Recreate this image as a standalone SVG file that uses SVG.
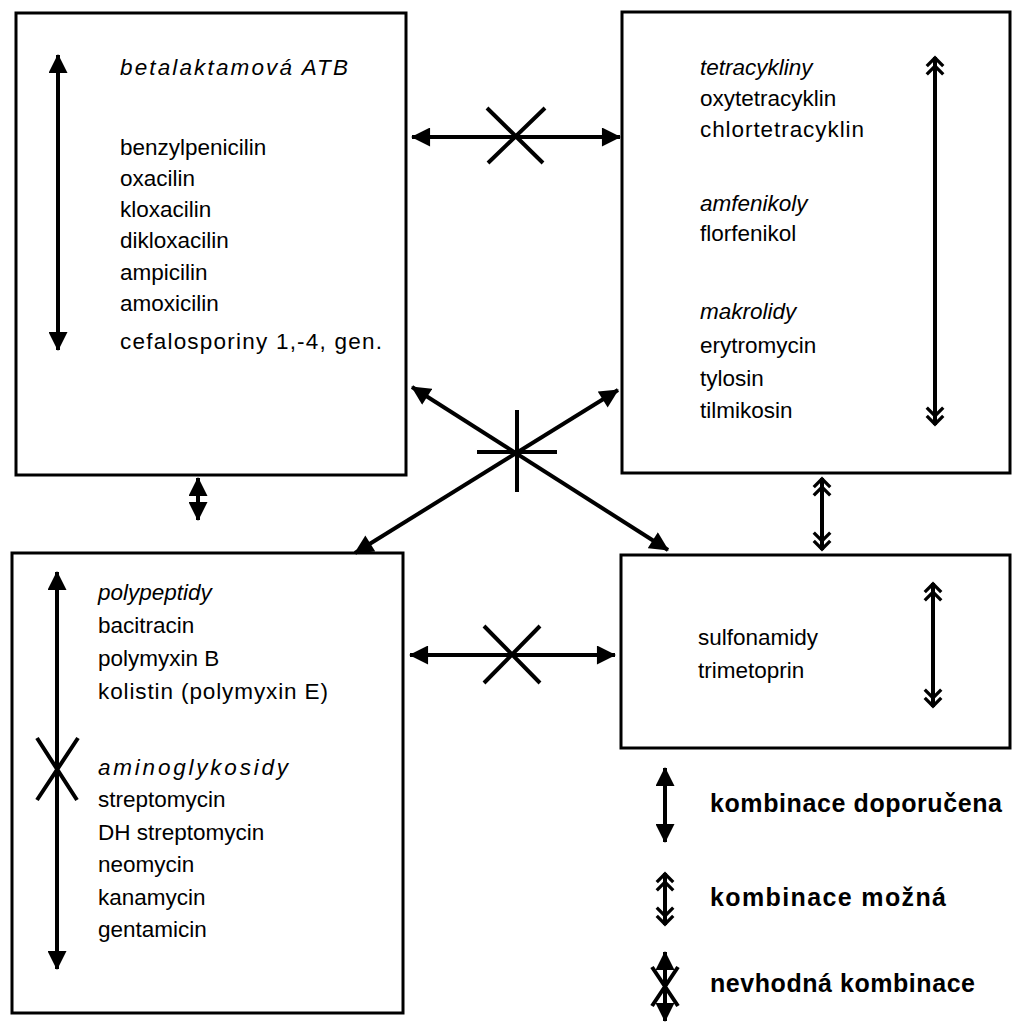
<svg xmlns="http://www.w3.org/2000/svg" width="1013" height="1023" viewBox="0 0 1013 1023">
<style>
.box{fill:#fff;stroke:#000;stroke-width:3}
.t{font-family:"Liberation Sans",Arial,sans-serif;font-size:22.5px;fill:#000}
.i{font-style:italic}
.b{font-weight:bold;font-size:25px}
.a{stroke:#000;stroke-width:4;fill:none}
.x{stroke:#000;stroke-width:4;fill:none}
.s{marker-start:url(#ah);marker-end:url(#ah)}
.d{marker-start:url(#dh);marker-end:url(#dh)}
</style>
<defs>
<marker id="ah" viewBox="0 0 20 20" refX="19" refY="10" markerWidth="20" markerHeight="19" markerUnits="userSpaceOnUse" orient="auto-start-reverse">
<path d="M0,0 L20,10 L0,20 z" fill="#000"/>
</marker>
<marker id="dh" viewBox="0 0 24 24" refX="22" refY="12" markerWidth="24" markerHeight="22" markerUnits="userSpaceOnUse" orient="auto-start-reverse">
<path d="M3,3 L12,12 L3,21 M12,3 L21,12 L12,21" fill="none" stroke="#000" stroke-width="3.6"/>
</marker>
</defs>
<g id="box-betalaktam">
<rect class="box" x="16" y="13" width="390" height="462"/>
<text class="t i" x="120" y="75" textLength="228">betalaktamová ATB</text>
<text class="t" x="120" y="155">benzylpenicilin</text>
<text class="t" x="120" y="186">oxacilin</text>
<text class="t" x="120" y="217">kloxacilin</text>
<text class="t" x="120" y="248">dikloxacilin</text>
<text class="t" x="120" y="280">ampicilin</text>
<text class="t" x="120" y="311">amoxicilin</text>
<text class="t" x="120" y="349" textLength="262">cefalosporiny 1,-4, gen.</text>
</g>
<g id="box-tetracykliny">
<rect class="box" x="622" y="12" width="388" height="461"/>
<text class="t i" x="700" y="75">tetracykliny</text>
<text class="t" x="700" y="106">oxytetracyklin</text>
<text class="t" x="700" y="137" textLength="164">chlortetracyklin</text>
<text class="t i" x="700" y="211">amfenikoly</text>
<text class="t" x="700" y="241">florfenikol</text>
<text class="t i" x="700" y="319">makrolidy</text>
<text class="t" x="700" y="353">erytromycin</text>
<text class="t" x="700" y="386">tylosin</text>
<text class="t" x="700" y="418">tilmikosin</text>
</g>
<g id="box-polypeptidy">
<rect class="box" x="12" y="553" width="391" height="460"/>
<text class="t i" x="98" y="600">polypeptidy</text>
<text class="t" x="98" y="633">bacitracin</text>
<text class="t" x="98" y="666">polymyxin B</text>
<text class="t" x="98" y="699" textLength="230">kolistin (polymyxin E)</text>
<text class="t i" x="98" y="775" textLength="190">aminoglykosidy</text>
<text class="t" x="98" y="807">streptomycin</text>
<text class="t" x="98" y="840">DH streptomycin</text>
<text class="t" x="98" y="872">neomycin</text>
<text class="t" x="98" y="905">kanamycin</text>
<text class="t" x="98" y="937">gentamicin</text>
</g>
<g id="box-sulfonamidy">
<rect class="box" x="621" y="555" width="389" height="193"/>
<text class="t" x="698" y="645">sulfonamidy</text>
<text class="t" x="698" y="678">trimetoprin</text>
</g>
<g id="connectors">
<line class="a s" x1="58" y1="55" x2="58" y2="350"/>
<line class="a d" x1="935" y1="57" x2="935" y2="425"/>
<line class="a s" x1="57" y1="572" x2="57" y2="969"/>
<path class="x" d="M37,738 L77,800 M78,738 L37,800"/>
<line class="a d" x1="933" y1="583" x2="933" y2="707"/>
<line class="a s" x1="412" y1="137" x2="620" y2="137"/>
<path class="x" d="M487,108 L543,163 M545,108 L488,163"/>
<line class="a s" x1="410" y1="655" x2="615" y2="655"/>
<path class="x" d="M484,626 L540,683 M540,626 L484,683"/>
<line class="a s" x1="198" y1="478" x2="198" y2="520"/>
<line class="a d" x1="822" y1="478" x2="822" y2="550"/>
<line class="a s" x1="412" y1="387" x2="668" y2="550"/>
<line class="a s" x1="618" y1="390" x2="355" y2="553"/>
<path class="x" d="M517,410 L517,492 M477,452 L557,452"/>
</g>
<g id="legend">
<line class="a s" x1="665" y1="768" x2="665" y2="842"/>
<text class="t b" x="710" y="812" textLength="292">kombinace doporučena</text>
<line class="a d" x1="665" y1="873" x2="665" y2="925"/>
<text class="t b" x="710" y="906" textLength="236">kombinace možná</text>
<line class="a s" x1="665" y1="952" x2="665" y2="1021"/>
<path class="x" d="M652,967 L678,1006 M678,967 L652,1006"/>
<text class="t b" x="710" y="992" textLength="265">nevhodná kombinace</text>
</g>
</svg>
